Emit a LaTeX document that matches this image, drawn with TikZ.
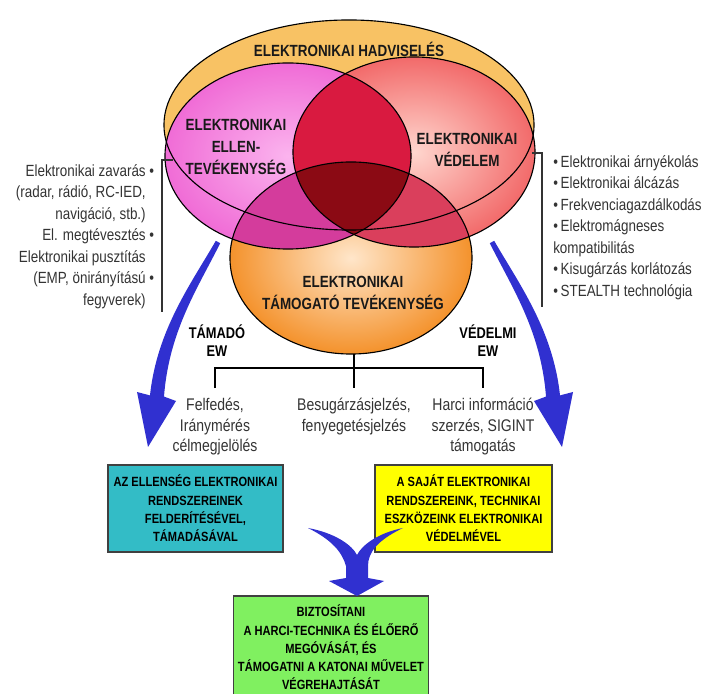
\documentclass[tikz,border=0pt]{standalone}
\usepackage{fontspec}
\newfontfamily\narrowsf{Liberation Sans}[FakeStretch=0.83]
\usetikzlibrary{positioning}

\definecolor{hadvorange}{HTML}{F8C264}
\definecolor{ellenpink}{HTML}{F06CD6}
\definecolor{ellenlight}{HTML}{FBB4EE}
\definecolor{vedred}{HTML}{F26A6A}
\definecolor{vedlight}{HTML}{FFD6CE}
\definecolor{tamorange}{HTML}{F4922C}
\definecolor{tamlight}{HTML}{FFE6CA}
\definecolor{crimson}{HTML}{D91A40}
\definecolor{magentamix}{HTML}{D43C9C}
\definecolor{rosemix}{HTML}{DA3F5C}
\definecolor{darkcore}{HTML}{8B0A14}
\definecolor{ewblue}{HTML}{3030D0}
\definecolor{enemycyan}{HTML}{33BCC6}
\definecolor{ownyellow}{HTML}{FFFF00}
\definecolor{goalgreen}{HTML}{80F060}

\tikzset{
    hadvpath/.style={insert path={(349,125) ellipse [x radius=4.625cm, y radius=2.625cm]}},
    ellenpath/.style={insert path={(288,156) ellipse [x radius=3.075cm, y radius=2.325cm]}},
    vedpath/.style={insert path={(414,152) ellipse [x radius=3.025cm, y radius=2.375cm]}},
    tampath/.style={insert path={(351,258) ellipse [x radius=3.025cm, y radius=2.4cm]}},
    venn/.style={draw=black, line width=0.8pt},
    heading/.style={font=\narrowsf\bfseries\fontsize{11.5}{15.4}\selectfont,
                    align=center, text=black!90, inner sep=0pt},
    listtext/.style={font=\narrowsf\fontsize{11.5}{15.3}\selectfont,
                     text=black!80, inner sep=0pt},
    leaf/.style={font=\narrowsf\fontsize{12}{14.6}\selectfont,
                 align=center, text=black!80, inner sep=0pt},
    ewlabel/.style={font=\narrowsf\bfseries\fontsize{11}{13}\selectfont,
                    align=center, inner sep=0pt},
    goalbox/.style={draw=black!75, line width=0.9pt, align=center,
                    font=\narrowsf\bfseries\fontsize{9.5}{13}\selectfont},
    bracket/.style={draw=black!80, line width=0.8pt},
    tree/.style={draw=black, line width=1pt},
    bluearrow/.style={fill=ewblue, draw=none},
}

\begin{document}
\begin{tikzpicture}[x=0.025cm, y=-0.025cm]
    \useasboundingbox (0,0) rectangle (705,694);

    % venn diagram
    \fill[hadvorange, hadvpath];
    \shade[inner color=ellenlight, outer color=ellenpink, ellenpath];
    \shade[inner color=vedlight, outer color=vedred, vedpath];
    \shade[inner color=tamlight, outer color=tamorange, tampath];
    \begin{scope}
        \clip[ellenpath];
        \fill[crimson, vedpath];
        \fill[magentamix, tampath];
    \end{scope}
    \begin{scope}
        \clip[vedpath];
        \fill[rosemix, tampath];
    \end{scope}
    \begin{scope}
        \clip[ellenpath];
        \clip[vedpath];
        \fill[darkcore, tampath];
    \end{scope}
    \draw[venn, hadvpath];
    \draw[venn, ellenpath];
    \draw[venn, vedpath];
    \draw[venn, tampath];

    \node[heading] (hadv) at (349,49) {ELEKTRONIKAI HADVISELÉS};
    \node[heading] (ellen) at (236,147) {ELEKTRONIKAI\\ELLEN-\\TEVÉKENYSÉG};
    \node[heading] (vedelem) at (467,150) {ELEKTRONIKAI\\VÉDELEM};
    \node[heading] (tamogato) at (353,293) {ELEKTRONIKAI\\TÁMOGATÓ TEVÉKENYSÉG};

    % side lists
    \node[listtext, align=right, anchor=north east] (offlist) at (146,164)
        {Elektronikai zavarás\rlap{ •}\\(radar, rádió, RC-IED,\\navigáció, stb.)\\
         El. megtévesztés\rlap{ •}\\Elektronikai pusztítás\\
         (EMP, önirányítású\rlap{ •}\\fegyverek)};
    \node[listtext, align=left, anchor=north west] (deflist) at (553,155)
        {•\,Elektronikai árnyékolás\\•\,Elektronikai álcázás\\•\,Frekvenciagazdálkodás\\
         •\,Elektromágneses\\kompatibilitás\\•\,Kisugárzás korlátozás\\•\,STEALTH technológia};
    \draw[bracket] (173,160) -- (162,160) -- (162,312);
    \draw[bracket] (532,153) -- (542,153) -- (542,307);

    % blue arrows
    \fill[bluearrow] (215.8,240.8) .. controls (191.5,283.1) and (157,329.5) .. (150,395.4)
        -- (137,392) -- (148,447) -- (176,401) -- (164,396.6)
        .. controls (169,330.5) and (198.5,286.9) .. (220.2,243.2) -- cycle;
    \fill[bluearrow] (494.2,240.8) .. controls (518.5,283.1) and (553,329.5) .. (560,395.4)
        -- (573,392) -- (562,447) -- (534,401) -- (546,396.6)
        .. controls (541,330.5) and (511.5,286.9) .. (489.8,243.2) -- cycle;

    % ew branches
    \node[ewlabel] (tamado) at (217,341) {TÁMADÓ\\EW};
    \node[ewlabel] (vedelmi) at (488,341) {VÉDELMI\\EW};
    \coordinate (tambase) at (354,354);
    \node[leaf, anchor=north] (felfedes) at (215,398) {Felfedés,\\Iránymérés\\célmegjelölés};
    \node[leaf, anchor=north] (besug) at (354,398) {Besugárzásjelzés,\\fenyegetésjelzés};
    \node[leaf, anchor=north] (harci) at (483,398) {Harci információ\\szerzés, SIGINT\\támogatás};
    \draw[tree] ([yshift=7pt]felfedes.north) -- ++(0,-20) -| ([yshift=7pt]harci.north);
    \draw[tree] (tambase) -- ([yshift=7pt]besug.north);

    % result boxes
    \node[goalbox, fill=enemycyan, minimum width=4.375cm, minimum height=2.175cm] (enemy)
        at (195.5,508.5) {AZ ELLENSÉG ELEKTRONIKAI\\RENDSZEREINEK\\FELDERÍTÉSÉVEL,\\TÁMADÁSÁVAL};
    \node[goalbox, fill=ownyellow, minimum width=4.425cm, minimum height=2.175cm] (own)
        at (463.5,508.5) {A SAJÁT ELEKTRONIKAI\\RENDSZEREINK, TECHNIKAI\\ESZKÖZEINK ELEKTRONIKAI\\VÉDELMÉVEL};
    \node[goalbox, fill=goalgreen, minimum width=4.8cm, minimum height=2.575cm] (goal)
        at (331,647.5) {BIZTOSÍTANI\\A HARCI-TECHNIKA ÉS ÉLŐERŐ\\MEGÓVÁSÁT, ÉS\\
                        TÁMOGATNI A KATONAI MŰVELET\\VÉGREHAJTÁSÁT};

    % merging arrow
    \fill[bluearrow] (308,528) .. controls (335,533) and (352,545) .. (357,555)
        .. controls (362,545) and (378,533) .. (403,528)
        .. controls (378,540) and (368,552) .. (368,566)
        -- (368,578) -- (384,581) -- (357,596) -- (329,581) -- (346,578)
        -- (346,566) .. controls (342,552) and (332,540) .. (308,528) -- cycle;
\end{tikzpicture}
\end{document}
